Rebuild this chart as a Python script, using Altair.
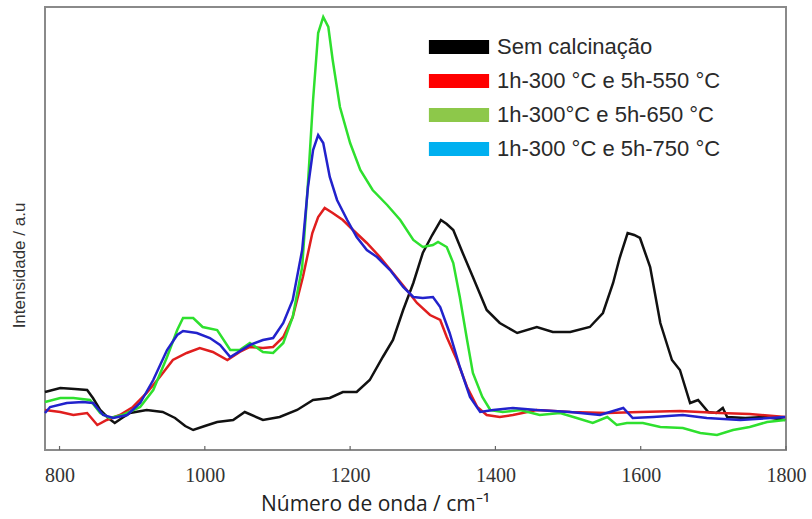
import altair as alt
import pandas as pd

series_names = [
    "Sem calcinação",
    "1h-300 °C e 5h-550 °C",
    "1h-300°C e 5h-650 °C",
    "1h-300 °C e 5h-750 °C",
]
line_colors = ["#111111", "#e01e1e", "#2ee02e", "#2222cc"]
legend_colors = ["#000000", "#ff0000", "#8dc84a", "#00b0f0"]

black_x = [780, 801, 821, 838, 846, 856, 867, 876, 886, 897, 920, 942, 959, 973, 984, 1000,
           1017, 1039, 1055, 1080, 1103, 1127, 1149, 1172, 1190, 1209, 1227, 1245, 1259, 1273,
           1287, 1300, 1313, 1325, 1333, 1342, 1355, 1369, 1388, 1406, 1430, 1457, 1479, 1503,
           1530, 1548, 1562, 1571, 1582, 1591, 1599, 1613, 1627, 1643, 1654, 1668, 1679, 1693,
           1704, 1713, 1719, 1744, 1771, 1799]
black_y = [58, 62, 61, 60, 52, 40, 32, 27, 32, 37, 40, 38, 32, 24, 20, 24,
           28, 30, 38, 30, 33, 40, 50, 52, 58, 58, 70, 93, 110, 140,
           167, 197, 215, 230, 226, 220, 197, 173, 140, 127, 117, 123, 118, 118,
           123, 137, 167, 192, 217, 215, 212, 183, 127, 90, 80, 47, 50, 38,
           37, 42, 33, 32, 33, 30]

red_x = [780, 801, 819, 838, 852, 865, 883, 901, 920, 938, 956, 975, 993, 1011, 1031, 1048,
         1062, 1080, 1094, 1108, 1121, 1135, 1148, 1156, 1165, 1176, 1190, 1204, 1223, 1241,
         1259, 1278, 1292, 1310, 1324, 1333, 1347, 1361, 1375, 1388, 1406, 1424, 1457, 1503,
         1554, 1599, 1654, 1709, 1750, 1799]
red_y = [40, 38, 35, 37, 25, 30, 35, 43, 57, 73, 90, 97, 102, 98, 90, 98,
         103, 102, 103, 113, 133, 173, 217, 233, 242, 237, 230, 220, 207, 193,
         177, 160, 147, 135, 130, 113, 90, 63, 43, 35, 33, 35, 40, 38,
         37, 38, 39, 37, 36, 33]

green_x = [780, 801, 819, 842, 856, 869, 887, 911, 929, 948, 962, 970, 984, 997, 1017, 1035,
           1048, 1062, 1080, 1094, 1108, 1121, 1134, 1142, 1149, 1156, 1163, 1170, 1176, 1186,
           1200, 1214, 1231, 1251, 1269, 1287, 1300, 1314, 1321, 1333, 1342, 1351, 1361, 1369,
           1382, 1393, 1410, 1434, 1461, 1489, 1512, 1534, 1554, 1567, 1581, 1603, 1627, 1658,
           1682, 1705, 1727, 1750, 1774, 1799]
green_y = [48, 52, 52, 50, 37, 32, 35, 43, 60, 93, 120, 132, 132, 123, 120, 100,
           100, 107, 98, 97, 107, 133, 183, 267, 350, 417, 433, 423, 390, 343,
           307, 280, 260, 245, 230, 210, 203, 205, 208, 203, 187, 153, 110, 77,
           53, 40, 38, 40, 35, 37, 32, 27, 33, 25, 27, 27, 23, 22,
           17, 15, 20, 23, 28, 30]

blue_x = [780, 787, 810, 832, 846, 860, 874, 893, 911, 929, 948, 962, 970, 989, 1007, 1021,
          1035, 1062, 1080, 1094, 1108, 1121, 1134, 1142, 1149, 1156, 1163, 1172, 1182, 1196,
          1209, 1223, 1237, 1255, 1273, 1287, 1300, 1314, 1324, 1337, 1351, 1365, 1379, 1397,
          1424, 1457, 1503, 1544, 1576, 1589, 1617, 1658, 1691, 1737, 1799]
blue_y = [37, 43, 47, 48, 47, 35, 32, 35, 47, 70, 100, 115, 119, 117, 112, 105,
          93, 105, 110, 112, 127, 150, 200, 263, 300, 315, 307, 273, 250, 230,
          213, 200, 193, 180, 163, 153, 152, 153, 143, 117, 83, 53, 38, 40,
          42, 40, 38, 35, 42, 32, 33, 35, 32, 30, 33]

tick_values = [800, 1000, 1200, 1400, 1600, 1800]

rows = []
for name, xs, ys in zip(series_names, [black_x, red_x, green_x, blue_x],
                        [black_y, red_y, green_y, blue_y]):
    for xv, yv in zip(xs, ys):
        rows.append({"série": name, "nu": xv, "I": yv})
df = pd.DataFrame(rows)
legend_df = pd.DataFrame({"rótulo": series_names})
ticks_df = pd.DataFrame({"t": tick_values})

x_scale = alt.Scale(domain=[780, 1800], nice=False, zero=False)
y_scale = alt.Scale(domain=[0, 443], nice=False, zero=False)

x_axis = alt.Axis(
    values=tick_values, format="d", title="Número de onda / cm⁻¹", grid=False,
    domain=False, ticks=False, tickSize=0, labelFont="Liberation Serif",
    labelFontSize=20, labelColor="#333333", labelPadding=15, labelFlush=False,
    titleFont="Open Sans", titleFontSize=21, titleFontWeight="normal",
    titleColor="#222222", titleX=330, titleY=60, titleBaseline="alphabetic",
    titleAlign="center", titleAnchor="start",
)
y_axis = alt.Axis(
    title="Intensidade / a.u", labels=False, ticks=False, domain=False, grid=False,
    titleFont="Liberation Sans", titleFontSize=17, titleFontWeight="normal",
    titleColor="#333333", titleX=-17, titleY=258, titleAngle=270,
    titleAlign="center", titleBaseline="bottom", titleAnchor="start",
)

lines = alt.Chart(df).mark_line(strokeWidth=2.5).encode(
    x=alt.X("nu:Q", scale=x_scale, axis=x_axis),
    y=alt.Y("I:Q", scale=y_scale, axis=y_axis),
    color=alt.Color("série:N", scale=alt.Scale(domain=series_names, range=line_colors),
                    legend=None),
    detail="série:N",
)

legend_layer = alt.Chart(legend_df).mark_square(size=0, filled=True).encode(
    fill=alt.Fill(
        "rótulo:N",
        scale=alt.Scale(domain=series_names, range=legend_colors),
        legend=alt.Legend(
            title=None, orient="none", legendX=403, legendY=29,
            symbolType="M-4.3,-1L4.3,-1L4.3,1L-4.3,1Z", symbolSize=196,
            symbolStrokeWidth=0, symbolOpacity=1,
            labelFont="Liberation Sans", labelFontSize=22, labelColor="#2a2a2a",
            labelOffset=27, rowPadding=12, padding=0, labelLimit=400,
        ),
    ),
)

tick_layer = alt.Chart(ticks_df).mark_rule(color="#666666", strokeWidth=1.2).encode(
    x=alt.X("t:Q", scale=x_scale),
    y=alt.datum(0),
    y2=alt.datum(4),
)

chart = alt.layer(lines, legend_layer, tick_layer).resolve_scale(
    color="independent", fill="independent"
).properties(
    width=741, height=443,
    autosize=alt.AutoSizeParams(type="none"),
    padding={"left": 45, "top": 7, "right": 26, "bottom": 69},
    background="white",
).configure_view(stroke="#8a8a8a", strokeWidth=2)

chart.save("out.html", embed_options={"renderer": "svg", "actions": False})
